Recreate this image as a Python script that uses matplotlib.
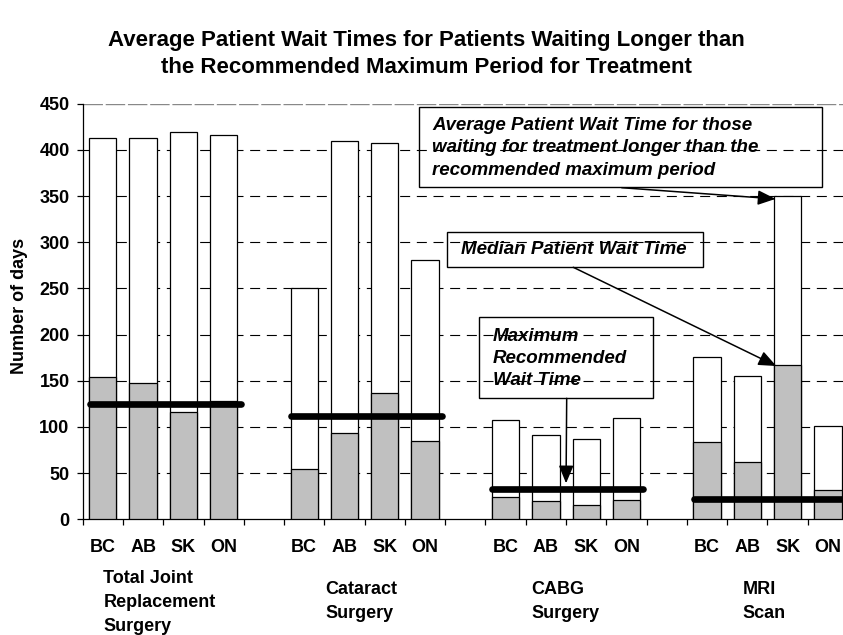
import matplotlib
matplotlib.use("Agg")
import matplotlib.pyplot as plt
from matplotlib.patches import Rectangle
import numpy as np

plt.rcParams['font.family'] = ['Liberation Sans', 'DejaVu Sans']

# ---- data ----
provinces = ['BC', 'AB', 'SK', 'ON']
procedures = ['Total Joint\nReplacement\nSurgery', 'Cataract\nSurgery', 'CABG\nSurgery', 'MRI\nScan']
avg_wait = [[413, 413, 420, 416],
            [251, 410, 408, 281],
            [108, 91, 87, 110],
            [176, 155, 350, 101]]
median_wait = [[154, 148, 116, 128],
               [54, 93, 137, 85],
               [24, 20, 16, 21],
               [84, 62, 167, 32]]
max_recommended = [125, 112, 33, 22]
yticks = [0, 50, 100, 150, 200, 250, 300, 350, 400, 450]

title = ('Average Patient Wait Times for Patients Waiting Longer than\n'
         'the Recommended Maximum Period for Treatment')
note_avg = ('Average Patient Wait Time for those\nwaiting for treatment longer than the\n'
            'recommended maximum period')
note_med = 'Median Patient Wait Time'
note_max = 'Maximum\nRecommended\nWait Time'

W, H = 843, 635
fig = plt.figure(figsize=(W / 100, H / 100), dpi=100)

def fx(x):
    return x / W

def fy(y):
    return 1 - y / H

ax_left, ax_right, ax_top, ax_bottom = 82.7, 848.0, 103.8, 519.3
ax = fig.add_axes([fx(ax_left), fy(ax_bottom), fx(ax_right - ax_left), (ax_bottom - ax_top) / H])

n_grp = len(procedures)
n_cat = len(provinces)
slot = n_cat + 1
positions = []
labels = []
for g in range(n_grp):
    for c in range(n_cat):
        positions.append(g * slot + c)
        labels.append(provinces[c])
positions = np.array(positions)
avg_flat = np.array(avg_wait).ravel()
med_flat = np.array(median_wait).ravel()

bw = 0.678
ax.bar(positions, avg_flat, width=bw, color='white', edgecolor='black', linewidth=0.9, zorder=3)
ax.bar(positions, med_flat, width=bw, color='#c0c0c0', edgecolor='black', linewidth=0.9, zorder=4)

# max recommended lines
for g in range(n_grp):
    x0 = g * slot - 0.5 + 0.17
    x1 = g * slot + n_cat - 1 + 0.5 - 0.08
    ax.plot([x0, x1], [max_recommended[g]] * 2, color='black', lw=4.8,
            solid_capstyle='round', zorder=6, clip_on=False)

total_slots = n_grp * slot - 1
ax.set_xlim(-0.5, total_slots - 0.5)
ax.set_ylim(0, 450)

# grid
for v in yticks[1:-1]:
    ax.axhline(v, color='black', lw=0.8, linestyle=(0, (9, 6)), zorder=1)
ax.axhline(450, color='#888888', lw=1.0, linestyle=(0, (14, 2)), zorder=1)

for s in ['top', 'right']:
    ax.spines[s].set_visible(False)
ax.spines['left'].set_linewidth(0.9)
ax.spines['bottom'].set_linewidth(0.9)

ax.set_yticks(yticks)
ax.set_yticklabels([str(v) for v in yticks], fontsize=13, fontweight='bold')
ax.tick_params(axis='y', direction='out', length=4.5, width=0.9, pad=5)

ax.set_xticks(positions)
ax.set_xticklabels(labels, fontsize=13, fontweight='bold')
ax.tick_params(axis='x', which='major', length=0, pad=14)
ax.set_xticks(np.arange(-0.5, total_slots, 1.0), minor=True)
ax.tick_params(axis='x', which='minor', direction='out', length=4.5, width=0.9)

# group labels
grp_x = [103.3, 325.7, 531.7, 742.7]
grp_y = [570, 581, 581, 581]
for g in range(n_grp):
    fig.text(fx(grp_x[g]), fy(grp_y[g]), procedures[g], ha='left', va='top',
             fontsize=13, fontweight='bold', linespacing=1.52)

fig.text(fx(426), fy(54), title, ha='center', va='center', fontsize=16,
         fontweight='bold', linespacing=1.34)
fig.text(fx(20), fy(306), 'Number of days', rotation=90, ha='center', va='center',
         fontsize=13, fontweight='bold')

# annotation boxes (transparent)
def box(x0, y0, x1, y1):
    fig.patches.append(Rectangle((fx(x0), fy(y1)), fx(x1 - x0), (y1 - y0) / H,
                                 transform=fig.transFigure, fill=False,
                                 edgecolor='black', lw=1.0, zorder=10))

box(419, 107, 822, 187)
fig.text(fx(432), fy(148), note_avg, ha='left', va='center', fontsize=13.5,
         fontweight='bold', style='italic', linespacing=1.42)
box(447, 232, 703, 267)
fig.text(fx(460.7), fy(250), note_med, ha='left', va='center', fontsize=13.5,
         fontweight='bold', style='italic')
box(479, 317, 653, 398)
fig.text(fx(493), fy(358.5), note_max, ha='left', va='center', fontsize=13.5,
         fontweight='bold', style='italic', linespacing=1.42)

ap = dict(arrowstyle='-|>,head_length=0.6,head_width=0.25', color='black', lw=1.1,
          mutation_scale=18, shrinkA=0, shrinkB=0)
sk_mri = 3 * slot + 2
ax.annotate('', xy=(sk_mri - bw / 2 + 0.04, avg_flat[-2] - 3), xycoords='data',
            xytext=(fx(621.7), fy(187.7)), textcoords='figure fraction', arrowprops=ap, zorder=12)
ax.annotate('', xy=(sk_mri - bw / 2 + 0.06, med_flat[-2] - 1), xycoords='data',
            xytext=(fx(573.3), fy(267.3)), textcoords='figure fraction', arrowprops=ap, zorder=12)
ax.annotate('', xy=(2 * slot + 1.5, max_recommended[2] + 6), xycoords='data',
            xytext=(fx(566.7), fy(398.3)), textcoords='figure fraction', arrowprops=ap, zorder=12)

fig.savefig('out.png', dpi=100)
